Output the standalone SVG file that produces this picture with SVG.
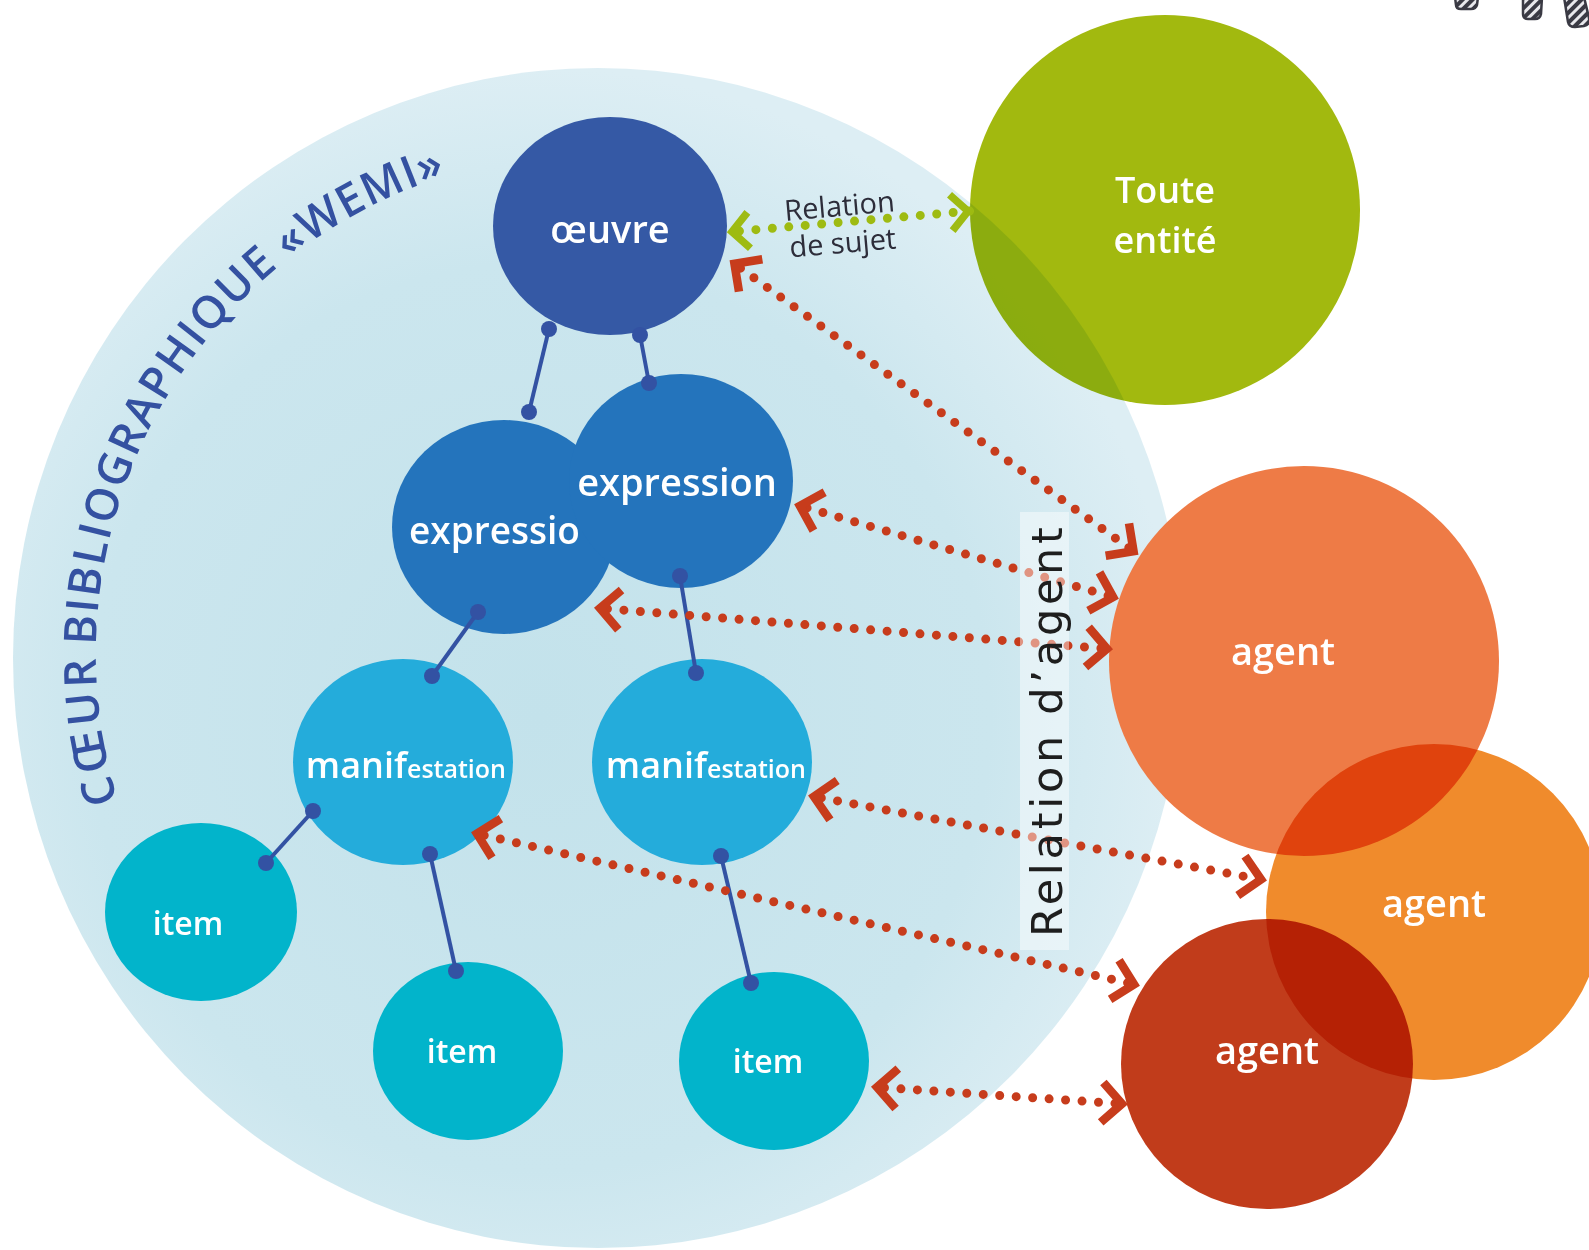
<svg xmlns="http://www.w3.org/2000/svg" width="1589" height="1250" viewBox="0 0 1589 1250">
<style>
.lbl{font-family:"Open Sans","Noto Sans",sans-serif;font-weight:600;fill:#ffffff;text-anchor:middle}
.ttl{font-family:"Open Sans","Noto Sans",sans-serif;font-weight:600;font-size:45px;fill:#3451a1}
.blue{stroke:#3352a3;stroke-width:4;fill:none}
.bdot{fill:#3352a3}
.red{stroke:#c73c1c;stroke-width:9;stroke-linecap:round;stroke-dasharray:0 16.5;stroke-dashoffset:6;fill:none;marker-start:url(#chevR);marker-end:url(#chevR)}
.grn{stroke:#9ebb12;stroke-width:9;stroke-linecap:round;stroke-dasharray:0 16.5;stroke-dashoffset:6;fill:none;marker-start:url(#chevG);marker-end:url(#chevG)}
.hatch{fill:url(#hatchPat);stroke:#3a3a44;stroke-width:2.5}
</style>
<defs>
<radialGradient id="bgGrad" cx="0.45" cy="0.55" r="0.55">
<stop offset="0" stop-color="#c3e2eb"/>
<stop offset="0.7" stop-color="#cbe6ee"/>
<stop offset="1" stop-color="#ddeef4"/>
</radialGradient>
<pattern id="hatchPat" width="7" height="7" patternUnits="userSpaceOnUse" patternTransform="rotate(45)">
<rect width="7" height="7" fill="#3a3a44"/>
<rect width="3" height="7" fill="#e8e8ec"/>
</pattern>
<marker id="chevR" markerUnits="userSpaceOnUse" markerWidth="70" markerHeight="70" viewBox="-35 -35 70 70" refX="0" refY="0" orient="auto-start-reverse">
<path d="M-23 -20 L-3 0 L-23 20" fill="none" stroke="#c73c1c" stroke-width="8.5"/>
</marker>
<marker id="chevG" markerUnits="userSpaceOnUse" markerWidth="70" markerHeight="70" viewBox="-35 -35 70 70" refX="0" refY="0" orient="auto-start-reverse">
<path d="M-20 -18 L-3 0 L-20 18" fill="none" stroke="#9ebb12" stroke-width="7.5"/>
</marker>
<path id="titleArc" d="M 118 801 A 502 502 0 0 1 446 175.5"/>
</defs>

<rect width="1589" height="1250" fill="#ffffff"/>

<!-- decorative hatched shapes (top right) -->
<g id="deco">
<path class="hatch" d="M1455 -3 L1478 -3 L1477 5 Q1476 9 1471 9 L1461 9 Q1456 9 1456 5 Z"/>
<path class="hatch" d="M1523 -3 L1542 -3 L1541 14 Q1540 19 1535 19 L1528 19 Q1523 19 1523 14 Z"/>
<path class="hatch" d="M1564 -3 L1584 -3 L1589 18 Q1590 25 1584 26 L1575 27 Q1569 27 1568 22 Z"/>
</g>

<!-- background circle -->
<g id="wemi-core">
<ellipse cx="598" cy="658" rx="585" ry="590" fill="url(#bgGrad)"/>
<text class="ttl"><textPath href="#titleArc" startOffset="0" textLength="145" lengthAdjust="spacing">CŒUR</textPath></text>
<text class="ttl"><textPath href="#titleArc" startOffset="158" textLength="433" lengthAdjust="spacing">BIBLIOGRAPHIQUE</textPath></text>
<text class="ttl"><textPath href="#titleArc" startOffset="604" textLength="179" lengthAdjust="spacing">«WEMI»</textPath></text>
</g>

<!-- Toute entité -->
<g id="toute-entite">
<circle cx="1165" cy="210" r="195" fill="#a2b90f" style="mix-blend-mode:multiply"/>
<text class="lbl" x="1165" y="203" font-size="36">Toute</text>
<text class="lbl" x="1165" y="253" font-size="36">entité</text>
</g>

<!-- WEMI nodes -->
<g id="oeuvre">
<ellipse cx="610" cy="226" rx="117" ry="109" fill="#3559a5"/>
<text class="lbl" x="610" y="243" font-size="38">œuvre</text>
</g>
<g id="expression-1">
<ellipse cx="504" cy="527" rx="112" ry="107" fill="#2474bc"/>
<text class="lbl" x="409" y="544" font-size="37" style="text-anchor:start">expressio</text>
</g>
<g id="expression-2">
<ellipse cx="681" cy="481" rx="112" ry="107" fill="#2474bc"/>
<text class="lbl" x="677" y="496" font-size="38">expression</text>
</g>
<g id="manifestation-1">
<ellipse cx="403" cy="762" rx="110" ry="103" fill="#24acdb"/>
<text class="lbl" x="407" y="778" font-size="36" style="text-anchor:end">manif</text>
<text class="lbl" x="407" y="778" font-size="25" style="text-anchor:start">estation</text>
</g>
<g id="manifestation-2">
<ellipse cx="702" cy="762" rx="110" ry="103" fill="#24acdb"/>
<text class="lbl" x="707" y="778" font-size="36" style="text-anchor:end">manif</text>
<text class="lbl" x="707" y="778" font-size="25" style="text-anchor:start">estation</text>
</g>
<g id="item-1">
<ellipse cx="201" cy="912" rx="96" ry="89" fill="#02b4cb"/>
<text class="lbl" x="188" y="935" font-size="32">item</text>
</g>
<g id="item-2">
<ellipse cx="468" cy="1051" rx="95" ry="89" fill="#02b4cb"/>
<text class="lbl" x="462" y="1063" font-size="32">item</text>
</g>
<g id="item-3">
<ellipse cx="774" cy="1061" rx="95" ry="89" fill="#02b4cb"/>
<text class="lbl" x="768" y="1073" font-size="32">item</text>
</g>

<!-- agents -->
<g id="agents" style="isolation:isolate">
<g id="agent-1">
<circle cx="1304" cy="661" r="195" fill="#ee7b46"/>
</g>
<g id="agent-2">
<ellipse cx="1434" cy="912" rx="168" ry="168" fill="#f08b2c" style="mix-blend-mode:multiply"/>
</g>
<g id="agent-3">
<ellipse cx="1267" cy="1064" rx="146" ry="145" fill="#c13c1b" style="mix-blend-mode:multiply"/>
</g>
</g>
<g id="agent-labels">
<text class="lbl" x="1283" y="665" font-size="38">agent</text>
<text class="lbl" x="1434" y="917" font-size="38">agent</text>
<text class="lbl" x="1267" y="1064" font-size="38">agent</text>
</g>

<!-- connectors -->
<g id="connectors">
<g id="wemi-links">
<line class="blue" x1="549" y1="329" x2="529" y2="412"/>
<circle class="bdot" cx="549" cy="329" r="8"/><circle class="bdot" cx="529" cy="412" r="8"/>
<line class="blue" x1="640" y1="335" x2="649" y2="383"/>
<circle class="bdot" cx="640" cy="335" r="8"/><circle class="bdot" cx="649" cy="383" r="8"/>
<line class="blue" x1="478" y1="612" x2="432" y2="676"/>
<circle class="bdot" cx="478" cy="612" r="8"/><circle class="bdot" cx="432" cy="676" r="8"/>
<line class="blue" x1="680" y1="576" x2="696" y2="673"/>
<circle class="bdot" cx="680" cy="576" r="8"/><circle class="bdot" cx="696" cy="673" r="8"/>
<line class="blue" x1="313" y1="811" x2="266" y2="863"/>
<circle class="bdot" cx="313" cy="811" r="8"/><circle class="bdot" cx="266" cy="863" r="8"/>
<line class="blue" x1="430" y1="854" x2="456" y2="971"/>
<circle class="bdot" cx="430" cy="854" r="8"/><circle class="bdot" cx="456" cy="971" r="8"/>
<line class="blue" x1="721" y1="856" x2="751" y2="983"/>
<circle class="bdot" cx="721" cy="856" r="8"/><circle class="bdot" cx="751" cy="983" r="8"/>
</g>
<g id="agent-relations">
<line class="red" x1="732" y1="262" x2="1136" y2="553"/>
<line class="red" x1="797" y1="505" x2="1116" y2="598"/>
<line class="red" x1="597" y1="608" x2="1110" y2="649"/>
<line class="red" x1="811" y1="796" x2="1264" y2="880"/>
<line class="red" x1="474" y1="833" x2="1137" y2="985"/>
<line class="red" x1="874" y1="1087" x2="1125" y2="1104"/>
</g>
<g id="subject-relation">
<line class="grn" x1="729" y1="232" x2="971" y2="211"/>
</g>
</g>

<!-- labels -->
<g id="label-agent-relation">
<rect x="1020" y="512" width="49" height="438" fill="#ffffff" fill-opacity="0.45"/>
<text transform="translate(1062 937) rotate(-90)" font-family="'DejaVu Sans',sans-serif" font-size="43" fill="#1e1e1e" textLength="410" lengthAdjust="spacing">Relation d’agent</text>
</g>
<g id="label-subject-relation" transform="rotate(-5 842 235)" font-family="'Open Sans','Noto Sans',sans-serif" font-size="29" font-weight="500" fill="#2d2d3a" text-anchor="middle">
<text x="842" y="216">Relation</text>
<text x="842" y="253">de sujet</text>
</g>
</svg>
